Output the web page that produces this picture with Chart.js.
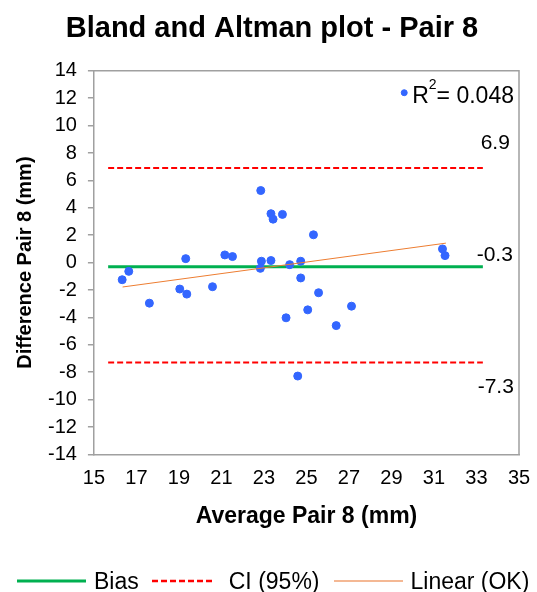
<!DOCTYPE html>
<html>
<head>
<meta charset="utf-8">
<script src="https://cdn.jsdelivr.net/npm/chart.js@4/dist/chart.umd.min.js"></script>
<style>
  html, body { margin: 0; padding: 0; background: #fff; }
  #wrap { width: 537px; height: 592px; position: relative; }
  #legend {
    position: absolute; left: 0; top: 566px; height: 30px;
    display: flex; align-items: center;
    font-family: 'Liberation Sans', Arial, sans-serif; font-size: 23px; color: #000;
    white-space: nowrap;
  }
  #legend svg { display: block; }
</style>
</head>
<body>
<div id="wrap">
  <canvas id="baChart"></canvas>
  <div id="legend">
    <svg width="69" height="6" style="margin-left:17px"><line x1="0" y1="3" x2="69" y2="3" stroke="#00b050" stroke-width="3"/></svg>
    <span style="margin-left:8px">Bias</span>
    <svg width="62" height="6" style="margin-left:13px"><line x1="0" y1="3" x2="62" y2="3" stroke="#ff0000" stroke-width="2.5" stroke-dasharray="6 3"/></svg>
    <span style="margin-left:15px">CI (95%)</span>
    <svg width="69" height="6" style="margin-left:14px"><line x1="0" y1="3" x2="69" y2="3" stroke="#f0a070" stroke-width="1.5"/></svg>
    <span style="margin-left:8px">Linear (OK)</span>
  </div>
</div>
<script>
/* ---------- datos del gráfico ---------- */
const avgValues = [16.33, 16.64, 17.61, 19.04, 19.37, 19.32, 20.58, 21.16, 21.52, 22.85, 22.88, 22.83,
  23.33, 23.43, 23.33, 23.87, 24.04, 24.21, 24.73, 24.73, 25.33, 25.57, 25.06, 26.40, 27.12, 24.59, 31.40, 31.52];
const diffValues = [-1.25, -0.64, -2.96, -1.93, -2.30, 0.29, -1.76, 0.56, 0.44, 5.26, 0.10, -0.42,
  3.57, 3.17, 0.15, 3.52, -4.03, -0.15, 0.10, -1.12, 2.03, -2.20, -3.45, -4.60, -3.18, -8.28, 1.00, 0.51];

const lineRange = [15.67, 33.3];          // extremos de las líneas de sesgo / IC
const biasValue = -0.3;
const ciUpper = 6.9;
const ciLower = -7.3;

const trendX = [16.35, 31.56];            // recta de tendencia
const trendY = [-1.78, 1.42];

const r2Marker = [29.6, 12.4];
const r2Text = '0.048';

const xTicks = { min: 15, max: 35, step: 2 };
const yTicks = { min: -14, max: 14, step: 2 };

const FONT = "'Liberation Sans', Arial, sans-serif";

/* ---------- etiquetas de líneas, R² y marco ---------- */
const lineLabels = {
  id: 'lineLabels',
  afterDatasetsDraw(chart) {
    const { ctx, scales: { x, y }, chartArea } = chart;
    const xr = x.getPixelForValue(lineRange[1]);
    ctx.save();
    ctx.fillStyle = '#000';
    ctx.font = '21px ' + FONT;
    ctx.textAlign = 'right';
    ctx.textBaseline = 'middle';
    ctx.fillText(ciUpper.toFixed(1), xr + 27, y.getPixelForValue(ciUpper) - 25);
    ctx.fillText(biasValue.toFixed(1), xr + 30, y.getPixelForValue(biasValue) - 12);
    ctx.fillText(ciLower.toFixed(1), xr + 31, y.getPixelForValue(ciLower) + 25);

    // R²
    const rx = x.getPixelForValue(r2Marker[0]) + 8;
    const ry = y.getPixelForValue(r2Marker[1]) + 10;
    ctx.textAlign = 'left';
    ctx.textBaseline = 'alphabetic';
    ctx.font = '23px ' + FONT;
    ctx.fillText('R', rx, ry);
    const wR = ctx.measureText('R').width;
    ctx.font = '14px ' + FONT;
    ctx.fillText('2', rx + wR, ry - 14);
    const w2 = ctx.measureText('2').width;
    ctx.font = '23px ' + FONT;
    ctx.fillText('= ' + r2Text, rx + wR + w2, ry);

    // marco del área de trazado
    ctx.strokeStyle = '#a0a0a0';
    ctx.lineWidth = 1.5;
    ctx.beginPath();
    ctx.moveTo(chartArea.left, chartArea.top);
    ctx.lineTo(chartArea.right, chartArea.top);
    ctx.lineTo(chartArea.right, chartArea.bottom);
    ctx.stroke();
    ctx.restore();
  }
};

/* ---------- gráfico ---------- */
new Chart(document.getElementById('baChart'), {
  type: 'scatter',
  data: {
    datasets: [
      {
        label: 'Bias',
        type: 'line',
        data: lineRange.map(v => ({ x: v, y: biasValue })),
        borderColor: '#00b050',
        borderWidth: 3,
        pointRadius: 0,
        order: 3,
      },
      {
        label: 'CI (95%)',
        type: 'line',
        data: lineRange.map(v => ({ x: v, y: ciUpper })),
        borderColor: '#ff0000',
        borderWidth: 2,
        borderDash: [6, 3],
        pointRadius: 0,
        order: 3,
      },
      {
        label: 'CI lower',
        type: 'line',
        data: lineRange.map(v => ({ x: v, y: ciLower })),
        borderColor: '#ff0000',
        borderWidth: 2,
        borderDash: [6, 3],
        pointRadius: 0,
        order: 3,
      },
      {
        label: 'Linear (OK)',
        type: 'line',
        data: trendX.map((v, i) => ({ x: v, y: trendY[i] })),
        borderColor: '#ed7d31',
        borderWidth: 1,
        pointRadius: 0,
        order: 1,
      },
      {
        label: 'OK',
        data: avgValues.map((v, i) => ({ x: v, y: diffValues[i] })),
        backgroundColor: '#3366ff',
        borderColor: '#3366ff',
        pointRadius: 4,
        pointHoverRadius: 4,
        order: 2,
      },
      {
        label: 'R2',
        data: [{ x: r2Marker[0], y: r2Marker[1] }],
        backgroundColor: '#3366ff',
        borderColor: '#3366ff',
        pointRadius: 3,
        order: 2,
      },
    ],
  },
  options: {
    responsive: true,
    maintainAspectRatio: false,
    animation: false,
    layout: { padding: { left: 13, right: 6, top: 4, bottom: 62 } },
    plugins: {
      tooltip: { enabled: false },
      legend: { display: false },
      title: {
        display: true,
        text: 'Bland and Altman plot - Pair 8',
        color: '#000',
        font: { family: FONT, size: 29, weight: 'bold' },
        padding: { top: 8, bottom: 24 },
      },
    },
    scales: {
      x: {
        type: 'linear',
        min: xTicks.min,
        max: xTicks.max,
        afterFit: scale => { scale.paddingRight = 18; },
        ticks: { stepSize: xTicks.step, autoSkip: false, maxRotation: 0, color: '#000', font: { family: FONT, size: 20 }, padding: 12 },
        grid: { display: false, drawTicks: false },
        border: { color: '#a0a0a0', width: 1.5 },
        title: {
          display: true,
          text: 'Average Pair 8 (mm)',
          color: '#000',
          font: { family: FONT, size: 23, weight: 'bold' },
          padding: { top: 0, bottom: 0 },
        },
      },
      y: {
        min: yTicks.min,
        max: yTicks.max,
        ticks: { stepSize: yTicks.step, autoSkip: false, color: '#000', font: { family: FONT, size: 20 }, padding: 11 },
        grid: { drawOnChartArea: false, drawTicks: true, tickLength: 6, color: '#a0a0a0', lineWidth: 1.5 },
        border: { color: '#a0a0a0', width: 1.5 },
        title: {
          display: true,
          text: 'Difference Pair 8 (mm)',
          color: '#000',
          font: { family: FONT, size: 20, weight: 'bold' },
          padding: { top: 0, bottom: 0 },
        },
      },
    },
  },
  plugins: [lineLabels],
});
</script>
</body>
</html>
